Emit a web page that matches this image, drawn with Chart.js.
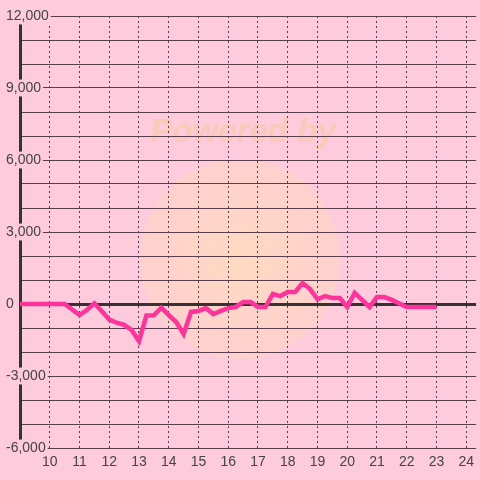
<!DOCTYPE html>
<html>
<head>
<meta charset="utf-8">
<script src="https://cdn.jsdelivr.net/npm/chart.js@4/dist/chart.umd.min.js"></script>
<style>
  html, body { margin: 0; padding: 0; background: #fdcbdc; }
  #wrap { width: 480px; height: 480px; }
</style>
</head>
<body>
<div id="wrap"><canvas id="chart"></canvas></div>
<script>
// horas (paso de 15 min) y saldo
const hours = [
  9, 9.25, 9.5, 9.75, 10, 10.25, 10.5, 10.75,
  11, 11.25, 11.5, 11.75, 12, 12.25, 12.5, 12.75,
  13, 13.25, 13.5, 13.75, 14, 14.25, 14.5, 14.75,
  15, 15.25, 15.5, 15.75, 16, 16.25, 16.5, 16.75,
  17, 17.25, 17.5, 17.75, 18, 18.25, 18.5, 18.75,
  19, 19.25, 19.5, 19.75, 20, 20.25, 20.5, 20.75,
  21, 21.25, 21.5, 21.75, 22, 22.25, 22.5, 22.75, 23
];
const balance = [
  0, 0, 0, 0, 0, 0, 0, -230,
  -460, -250, 30, -300, -650, -780, -870, -1080,
  -1550, -480, -470, -150, -460, -750, -1250, -330,
  -290, -170, -420, -290, -170, -125, 80, 80,
  -125, -125, 420, 330, 500, 500, 870, 620,
  200, 330, 250, 250, -125, 460, 170, -125,
  290, 290, 170, 20, -125, -125, -125, -125, -125
];
const xTicks = [10, 11, 12, 13, 14, 15, 16, 17, 18, 19, 20, 21, 22, 23, 24];
const yLabels = [-6000, -3000, 0, 3000, 6000, 9000, 12000];

const BG = '#fdcbdc';

const backgroundPlugin = {
    id: 'fondo',
    beforeDraw(chart) {
        const ctx = chart.ctx;
        ctx.save();
        ctx.fillStyle = BG;
        ctx.fillRect(0, 0, chart.width, chart.height);
        // marca de agua
        const g = ctx.createRadialGradient(240, 259, 10, 240, 259, 100);
        g.addColorStop(0, 'rgba(255, 222, 185, 0.75)');
        g.addColorStop(1, 'rgba(255, 215, 190, 0.45)');
        ctx.fillStyle = g;
        ctx.beginPath();
        ctx.arc(240, 259, 100, 0, Math.PI * 2);
        ctx.fill();
        ctx.font = 'italic bold 33px "Liberation Sans", Arial, sans-serif';
        ctx.textAlign = 'center';
        ctx.textBaseline = 'middle';
        ctx.fillStyle = 'rgba(250, 200, 175, 0.8)';
        ctx.fillText('Powered by', 243, 133);
        ctx.restore();
    }
};

const data = hours.map((h, i) => ({ x: h, y: balance[i] }));

new Chart(document.getElementById('chart'), {
    type: 'line',
    data: {
        datasets: [{
            data: data,
            borderColor: '#ff3399',
            borderWidth: 4.5,
            pointRadius: 0,
            tension: 0,
            fill: false
        }]
    },
    options: {
        responsive: true,
        maintainAspectRatio: false,
        animation: false,
        layout: { padding: { top: 16, left: 6, right: 0, bottom: 0 } },
        plugins: {
            legend: { display: false },
            tooltip: { enabled: false }
        },
        scales: {
            x: {
                type: 'linear',
                min: 9,
                max: 24 + 1 / 3,
                afterFit(scale) { scale.height = 32; },
                afterBuildTicks(scale) {
                    scale.ticks = xTicks.map(v => ({ value: v }));
                },
                ticks: {
                    padding: 6,
                    color: '#444',
                    font: { family: '"Liberation Sans", Arial, sans-serif', size: 14 },
                    maxRotation: 0,
                    autoSkip: false,
                    callback: v => String(v)
                },
                grid: {
                    color: '#5a3d4c',
                    lineWidth: 1,
                    drawTicks: false
                },
                border: { display: false, dash: [2, 3] }
            },
            y: {
                min: -6000,
                max: 12000,
                afterFit(scale) { scale.width = 14; },
                ticks: {
                    stepSize: 1000,
                    mirror: true,
                    crossAlign: 'near',
                    padding: -14,
                    color: '#444',
                    font: { family: '"Liberation Sans", Arial, sans-serif', size: 14 },
                    showLabelBackdrop: true,
                    backdropPadding: { left: 1, right: 2, top: 0, bottom: 0 },
                    backdropColor: c => yLabels.includes(c.tick.value) ? BG : 'rgba(0,0,0,0)',
                    callback: v => yLabels.includes(v) ? v.toLocaleString('en-US') : ''
                },
                grid: {
                    drawTicks: false,
                    color: c => c.tick.value === 0 ? '#333' : '#5a3d4c',
                    lineWidth: c => c.tick.value === 0 ? 3 : 1
                },
                border: { display: true, color: '#333', width: 3 }
            }
        }
    },
    plugins: [backgroundPlugin]
});
</script>
</body>
</html>
